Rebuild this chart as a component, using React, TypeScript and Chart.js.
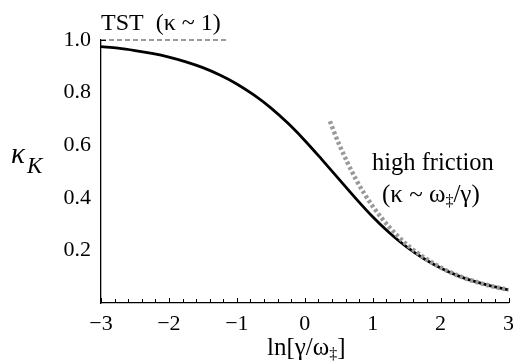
import React, { useEffect, useRef } from 'react';
import { Chart, registerables } from 'chart.js';
Chart.register(...registerables);

// Kramers rate (solid black curve)
const xKramers = [-3, -2.75, -2.5, -2.25, -2, -1.75, -1.5, -1.25, -1, -0.75, -0.5, -0.25, 0, 0.25, 0.5, 0.75, 1, 1.25, 1.5, 1.75, 2, 2.25, 2.5, 2.75, 3];
const kappaKramers = [0.975, 0.969, 0.96, 0.949, 0.935, 0.917, 0.895, 0.867, 0.833, 0.791, 0.742, 0.684, 0.618, 0.546, 0.472, 0.398, 0.328, 0.266, 0.213, 0.169, 0.133, 0.104, 0.082, 0.064, 0.05];

// High friction limit (grey dotted)
const xHigh = [0.37, 0.5, 0.75, 1, 1.25, 1.5, 1.75, 2, 2.25, 2.5, 2.75, 3];
const kappaHigh = [0.691, 0.607, 0.472, 0.368, 0.287, 0.223, 0.174, 0.135, 0.105, 0.082, 0.064, 0.05];

// TST limit (grey dashed)
const xTST = [-3, -1.12];
const kappaTST = [1, 1];

const xTicks = [-3, -2, -1, 0, 1, 2, 3];
const yTicks = [0.2, 0.4, 0.6, 0.8, 1.0];

const SERIF = "'Liberation Serif', 'DejaVu Serif', serif";

const textPlugin = {
  id: 'texts',
  afterDraw(chart: any) {
    const ctx = chart.ctx;
    const xs = chart.scales.x;
    const ys = chart.scales.y;
    ctx.save();
    // minor / major ticks on x axis, pointing inward
    ctx.strokeStyle = '#000';
    ctx.lineWidth = 1;
    const bottom = ys.getPixelForValue(0);
    for (let i = -15; i <= 15; i++) {
      const v = i / 5;
      const px = Math.round(xs.getPixelForValue(v)) + 0.5;
      const len = i % 5 === 0 ? 5 : 4;
      ctx.beginPath();
      ctx.moveTo(px, bottom);
      ctx.lineTo(px, bottom - len);
      ctx.stroke();
    }
    // top y tick
    const ty = Math.round(ys.getPixelForValue(1)) + 0.5;
    ctx.beginPath();
    ctx.moveTo(xs.left, ty);
    ctx.lineTo(xs.left + 5, ty);
    ctx.stroke();

    ctx.fillStyle = '#000';
    ctx.textAlign = 'left';
    ctx.textBaseline = 'alphabetic';

    // TST label
    ctx.font = `24px ${SERIF}`;
    ctx.fillText('TST  (κ ~ 1)', 101, 30);

    // y axis label kappa_K
    ctx.font = `italic 29px ${SERIF}`;
    ctx.fillText('κ', 11, 163);
    ctx.font = `italic 23px ${SERIF}`;
    ctx.fillText('K', 27, 173);

    let x = 0;
    const seg = (t: string, font: string, y: number) => {
      ctx.font = font;
      ctx.fillText(t, x, y);
      x += ctx.measureText(t).width;
    };
    // high friction
    ctx.font = `24.5px ${SERIF}`;
    ctx.fillText('high friction', 372, 170);
    x = 382;
    seg('(κ ~ ω', `25px ${SERIF}`, 202);
    seg('‡', `16px ${SERIF}`, 206);
    seg('/γ)', `25px ${SERIF}`, 202);

    // x title
    x = 267;
    seg('ln[γ/ω', `25px ${SERIF}`, 355);
    seg('‡', `16px ${SERIF}`, 359);
    seg(']', `25px ${SERIF}`, 355);
    ctx.restore();
  },
};

export default function App() {
  const ref = useRef<HTMLCanvasElement | null>(null);
  useEffect(() => {
    if (!ref.current) return;
    const chart = new Chart(ref.current, {
      type: 'line',
      data: {
        datasets: [
          {
            data: xKramers.map((x, i) => ({ x, y: kappaKramers[i] })),
            borderColor: '#000',
            borderWidth: 2.8,
            pointRadius: 0,
            cubicInterpolationMode: 'monotone',
            order: 3,
          },
          {
            data: xHigh.map((x, i) => ({ x, y: kappaHigh[i] })),
            borderColor: '#999999',
            borderWidth: 4.5,
            borderDash: [3, 2.5],
            borderCapStyle: 'butt',
            pointRadius: 0,
            cubicInterpolationMode: 'monotone',
            order: 1,
          },
          {
            data: xTST.map((x, i) => ({ x, y: kappaTST[i] })),
            borderColor: '#9a9a9a',
            borderWidth: 2,
            borderDash: [5, 3],
            pointRadius: 0,
            clip: false,
            order: 2,
          },
        ],
      },
      options: {
        animation: false,
        responsive: false,
        devicePixelRatio: 1,
        layout: { padding: { top: 40, right: 2, left: 0, bottom: 0 } },
        plugins: { legend: { display: false }, tooltip: { enabled: false } },
        scales: {
          x: {
            type: 'linear',
            min: -3,
            max: 3,
            afterBuildTicks: (s: any) => { s.ticks = xTicks.map((v) => ({ value: v })); },
            afterFit: (s: any) => { s.height = 59; },
            grid: { display: false, drawTicks: false },
            border: { display: true, color: '#000', width: 1.3 },
            ticks: {
              autoSkip: false,
              maxRotation: 0,
              padding: 8,
              color: '#000',
              font: { family: SERIF, size: 22 },
              callback: (v: any) => (v < 0 ? '\u2212' + Math.abs(v) : String(v)),
            },
          },
          y: {
            type: 'linear',
            min: 0,
            max: 1,
            afterBuildTicks: (s: any) => { s.ticks = yTicks.map((v) => ({ value: v })); },
            afterFit: (s: any) => { s.width = 101; },
            grid: { display: false, drawTicks: false },
            border: { display: true, color: '#000', width: 1.3 },
            ticks: {
              padding: 10,
              color: '#000',
              font: { family: SERIF, size: 22 },
              callback: (v: any) => Number(v).toFixed(1),
            },
          },
        },
      },
      plugins: [textPlugin],
    } as any);
    return () => chart.destroy();
  }, []);
  return (
    <div style={{ position: 'fixed', left: 0, top: 0, width: 522, height: 362, background: '#fff' }}>
      <canvas ref={ref} width={522} height={362} />
    </div>
  );
}
